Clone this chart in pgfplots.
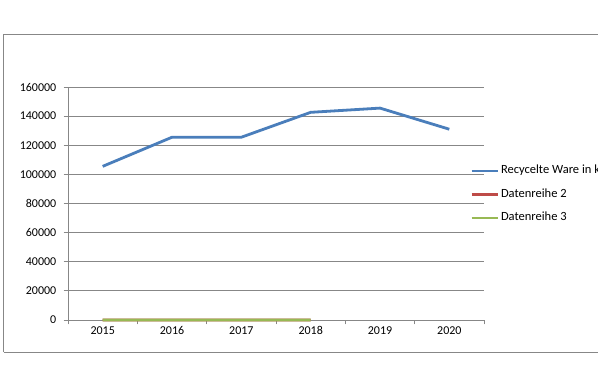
\documentclass[border=0pt]{standalone}
\usepackage{fontspec}
\setmainfont{Carlito}
\usepackage{pgfplots}
\pgfplotsset{compat=1.18}
\definecolor{xlblue}{HTML}{4A7EBB}
\definecolor{xlred}{HTML}{BE4B48}
\definecolor{xlgreen}{HTML}{98B954}
\definecolor{xlgray}{HTML}{878787}
\begin{document}
\fontsize{12}{14}\selectfont
\begin{tikzpicture}[x=1pt,y=1pt]
\useasboundingbox (0,0) rectangle (598,379);
\clip (0,0) rectangle (598,379);
\fill[white] (0,0) rectangle (598,379);
\draw[xlgray, line width=0.9pt] (3.5,344.5) -- (3.5,26.5) (3.5,26.5) -- (700,26.5) (3.5,344.5) -- (700,344.5);
\begin{axis}[
  at={(68pt,59pt)}, anchor=south west,
  scale only axis, width=416pt, height=233pt,
  xmin=-0.5, xmax=5.5, ymin=0, ymax=160000,
  axis x line*=bottom, axis y line*=left,
  axis line style={draw=xlgray, line width=0.9pt},
  xtick={-0.5,0.5,...,5.5}, xticklabels={},
  extra x ticks={0,1,2,3,4,5},
  extra x tick labels={2015,2016,2017,2018,2019,2020},
  extra x tick style={major tick length=0pt},
  ytick={0,20000,...,160000},
  scaled y ticks=false,
  yticklabel style={/pgf/number format/fixed, /pgf/number format/1000 sep={}},
  /pgf/number format/assume math mode=true,
  tick align=outside, major tick length=4.5pt,
  tick style={draw=xlgray, line width=0.9pt},
  ymajorgrids=true, xmajorgrids=false,
  grid style={draw=xlgray, line width=0.9pt},
  ticklabel style={font=\fontsize{12}{14}\selectfont, text=black},
  xticklabel style={yshift=-2pt, text height=8.5pt, text depth=0pt},
  yticklabel style={xshift=-3pt},
  legend cell align=left,
  legend style={draw=none, fill=none, at={(0.9664,0.6652)}, anchor=north west,
    font=\fontsize{12.5}{14}\selectfont,
    nodes={inner sep=0pt, text height=8.5pt, text depth=3pt},
    row sep=12pt, column sep=2pt, inner sep=0pt},
  legend image code/.code={\draw[#1] (0pt,0pt) -- (26pt,0pt);},
  clip=false,
]
\addplot[xlblue, line width=2.8pt] coordinates {(0,105500) (1,125500) (2,125500) (3,142600) (4,145500) (5,131000)};
\addlegendentry{Recycelte Ware in kg}
\addplot[xlred, line width=2.6pt] coordinates {(0,2.4) (1,4.4) (2,1.8) (3,2.8)};
\addlegendentry{Datenreihe 2}
\addplot[xlgreen, line width=2.6pt] coordinates {(0,2) (1,2) (2,3) (3,5)};
\addlegendentry{Datenreihe 3}
\end{axis}
\end{tikzpicture}
\end{document}
